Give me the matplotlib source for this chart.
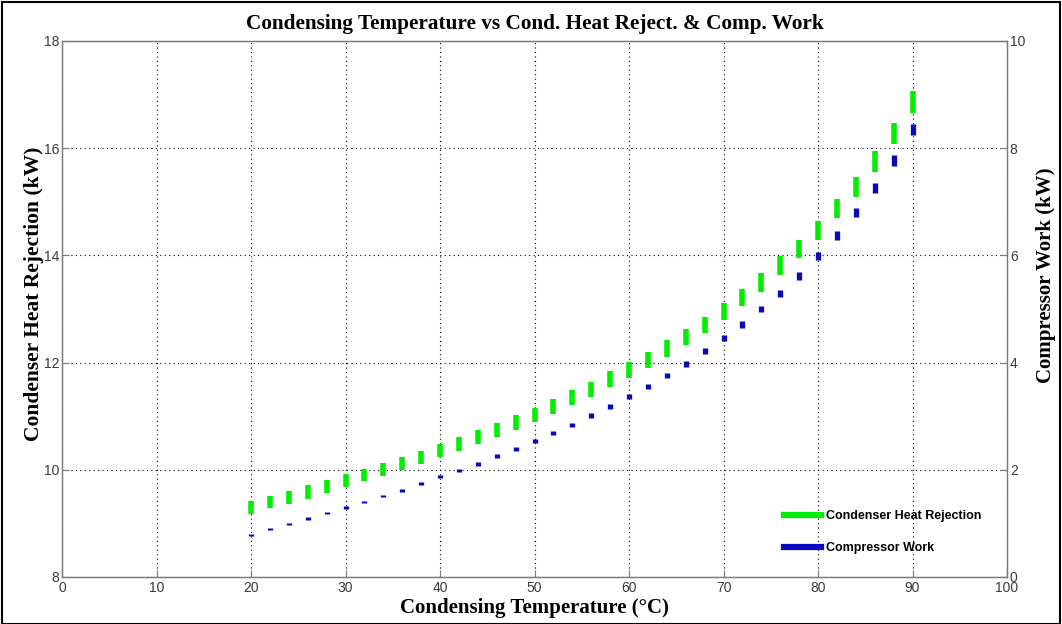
import matplotlib
matplotlib.use("Agg")
import matplotlib.pyplot as plt
from matplotlib.lines import Line2D
from matplotlib.patches import Rectangle
from matplotlib import font_manager
import numpy as np

temps = [20, 22, 24, 26, 28, 30, 32, 34, 36, 38, 40, 42, 44, 46, 48, 50, 52, 54,
         56, 58, 60, 62, 64, 66, 68, 70, 72, 74, 76, 78, 80, 82, 84, 86, 88, 90]

heat = [9.30, 9.40, 9.49, 9.59, 9.69, 9.80, 9.90, 10.01, 10.12, 10.23, 10.36, 10.48,
        10.61, 10.74, 10.88, 11.02, 11.18, 11.34, 11.50, 11.69, 11.86, 12.05, 12.26, 12.48,
        12.71, 12.95, 13.22, 13.50, 13.81, 14.12, 14.47, 14.87, 15.28, 15.75, 16.28, 16.86]
heat_span = [0.245, 0.24, 0.24, 0.26, 0.24, 0.24, 0.23, 0.24, 0.25, 0.25, 0.26, 0.25,
             0.26, 0.27, 0.27, 0.27, 0.28, 0.28, 0.28, 0.29, 0.29, 0.30, 0.31, 0.30,
             0.30, 0.32, 0.32, 0.35, 0.35, 0.33, 0.36, 0.36, 0.37, 0.38, 0.39, 0.42]

work = [0.79, 0.90, 0.99, 1.09, 1.19, 1.30, 1.40, 1.51, 1.62, 1.74, 1.87, 1.99,
        2.11, 2.26, 2.39, 2.53, 2.69, 2.84, 3.01, 3.18, 3.37, 3.56, 3.76, 3.97,
        4.21, 4.46, 4.71, 5.00, 5.29, 5.62, 5.99, 6.37, 6.80, 7.26, 7.77, 8.35]
work_span = [0.037, 0.037, 0.037, 0.041, 0.043, 0.045, 0.047, 0.049, 0.050, 0.052, 0.056, 0.058,
             0.062, 0.063, 0.067, 0.071, 0.075, 0.078, 0.084, 0.088, 0.091, 0.095, 0.100, 0.106,
             0.112, 0.118, 0.125, 0.130, 0.138, 0.147, 0.157, 0.166, 0.177, 0.187, 0.196, 0.205]

x_ticks = [0, 10, 20, 30, 40, 50, 60, 70, 80, 90, 100]
left_ticks = [8, 10, 12, 14, 16, 18]
right_ticks = [0, 2, 4, 6, 8, 10]

title = "Condensing Temperature vs Cond. Heat Reject. & Comp. Work"
xlabel = "Condensing Temperature (\u00b0C)"
ylabel_left = "Condenser Heat Rejection (kW)"
ylabel_right = "Compressor Work (kW)"
labels = ["Condenser Heat Rejection", "Compressor Work"]

GREEN = "#00ee00"
BLUE = "#0808c0"
SPINE = "#7a7a7a"
TICKC = "#3a3a3a"

names = {f.name for f in font_manager.fontManager.ttflist}
tick_family = "Liberation Sans Narrow" if "Liberation Sans Narrow" in names else "Liberation Sans"

fig = plt.figure(figsize=(10.62, 6.24), dpi=100)
ax = fig.add_axes([62 / 1062, 47 / 624, 945 / 1062, 536 / 624])
ax2 = ax.twinx()

h = np.array(heat)
hs = np.array(heat_span)
w = np.array(work)
ws = np.array(work_span)
t = np.array(temps)

ax.vlines(t, h - hs / 2, h + hs / 2, colors=GREEN, linewidth=4.0, capstyle="butt", zorder=3)
ax2.vlines(t, w - ws / 2, w + ws / 2, colors=BLUE, linewidth=3.8, capstyle="butt", zorder=3)

ax.set_xlim(0, 100)
ax.set_ylim(8, 18)
ax2.set_ylim(0, 10)
ax.set_xticks(x_ticks)
ax.set_yticks(left_ticks)
ax2.set_yticks(right_ticks)

ax.grid(True, color="black", linestyle=(0, (1, 3)), linewidth=0.8)
ax.set_axisbelow(True)

for a in (ax, ax2):
    a.tick_params(direction="in", length=5, width=0.8, color=SPINE, labelcolor=TICKC,
                  labelsize=10, pad=2)
    for s in a.spines.values():
        s.set_color(SPINE)
        s.set_linewidth(0.9)
    for lab in a.get_xticklabels() + a.get_yticklabels():
        lab.set_fontfamily(tick_family)
ax.tick_params(axis="x", pad=3)

serif = "Liberation Serif"
ax.set_title(title, fontfamily=serif, fontweight="bold", fontsize=15.3, pad=9)
ax.set_xlabel(xlabel, fontfamily=serif, fontweight="bold", fontsize=15, labelpad=2)
ax.set_ylabel(ylabel_left, fontfamily=serif, fontweight="bold", fontsize=15.5)
ax2.set_ylabel(ylabel_right, fontfamily=serif, fontweight="bold", fontsize=15)
ax.yaxis.set_label_coords(-0.019, 0.528)
ax2.yaxis.set_label_coords(1.031, 0.563)

handles = [Line2D([0], [0], color=GREEN, linewidth=4.5),
           Line2D([0], [0], color=BLUE, linewidth=4.5)]
leg = ax2.legend(handles, labels, loc="center left", bbox_to_anchor=(0.764, 0.084),
                 frameon=False, handlelength=3.0, handletextpad=0.35, labelspacing=1.6,
                 borderpad=0, borderaxespad=0,
                 prop=dict(family="Liberation Sans", weight="bold", size=9))

fig.patches.append(Rectangle((0.002, 0.0), 0.996, 0.996, transform=fig.transFigure,
                             fill=False, edgecolor="black", linewidth=1.5))

fig.savefig("out.png", dpi=100)
